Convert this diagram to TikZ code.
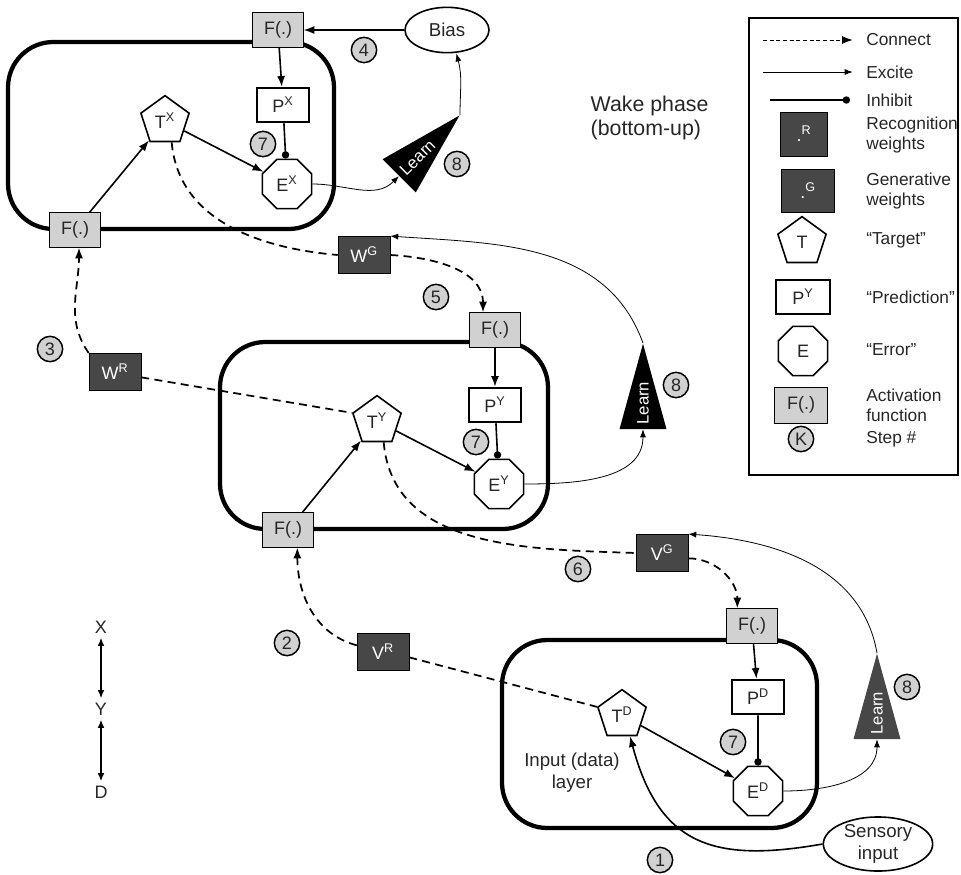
\documentclass[tikz,border=0pt]{standalone}
\usepackage{fontspec}
\setmainfont{Liberation Sans}
\usetikzlibrary{shapes.geometric, arrows.meta}

\tikzset{
  fbox/.style={draw, fill=black!18, minimum width=38pt, minimum height=26pt, inner sep=0pt},
  wbox/.style={draw, fill=black!72, text=white, minimum width=39pt, minimum height=28pt, inner sep=0pt},
  pbox/.style={draw, line width=1.4pt, fill=white, minimum width=39pt, minimum height=26pt, inner sep=0pt},
  target/.style={draw, line width=1.2pt, fill=white, regular polygon, regular polygon sides=5, minimum size=38pt, inner sep=0pt},
  error/.style={draw, line width=1.2pt, fill=white, regular polygon, regular polygon sides=8, minimum size=40pt, inner sep=0pt},
  stepno/.style={draw, line width=1.1pt, circle, fill=black!18, text=black!85, minimum size=19pt, inner sep=0pt},
  learn/.style={isosceles triangle, isosceles triangle stretches, fill=black, text=white, minimum width=32pt, minimum height=64pt, inner sep=0pt, font=\fontsize{12.5}{14}\selectfont},
  layer/.style={line width=3.2pt, rounded corners=34pt},
  connect/.style={-{Latex[length=8pt, width=6pt]}, line width=1.3pt, dash pattern=on 6pt off 4pt},
  excite/.style={-{Latex[length=8pt, width=6pt]}, line width=1.2pt},
  inhibit/.style={-{Circle[length=5.5pt]}, line width=1.2pt},
  learnline/.style={-{Latex[length=6pt, width=4.5pt]}, line width=0.6pt},
  legtext/.style={anchor=west, align=left, inner sep=0pt, font=\fontsize{13}{15}\selectfont}
}

\begin{document}
\begin{tikzpicture}[x=0.75pt, y=-0.75pt, font=\fontsize{13.5}{16}\selectfont, text=black!85]
\useasboundingbox (0,0) rectangle (961,875);

\draw[layer] (8,42) rectangle (334,229);
\draw[layer] (220,342) rectangle (548,529);
\draw[layer] (502,640) rectangle (817,828);

\node[fbox] (FXt) at (278,30) {F(.)};
\node[fbox] (FXb) at (75,230) {F(.)};
\node[pbox] (PX) at (283,105) {P\textsuperscript{X}};
\node[target] (TX) at (165,121) {T\textsuperscript{X}};
\node[error] (EX) at (287,184) {E\textsuperscript{X}};
\node[draw, line width=1.2pt, ellipse, minimum width=63pt, minimum height=34pt, font=\fontsize{14}{16}\selectfont] (bias) at (447,30) {Bias};
\node[learn, rotate=45, anchor=apex] (learnX) at (460,115) {Learn};

\node[fbox] (FYt) at (495,330) {F(.)};
\node[fbox] (FYb) at (288,530) {F(.)};
\node[pbox] (PY) at (495,405) {P\textsuperscript{Y}};
\node[target] (TY) at (377,421) {T\textsuperscript{Y}};
\node[error] (EY) at (499,484) {E\textsuperscript{Y}};
\node[learn, rotate=90, anchor=apex] (learnY) at (643,343) {Learn};

\node[fbox] (FDt) at (752,626) {F(.)};
\node[pbox] (PD) at (758,697) {P\textsuperscript{D}};
\node[target] (TD) at (622,715) {T\textsuperscript{D}};
\node[error] (ED) at (758,791) {E\textsuperscript{D}};
\node[learn, rotate=90, anchor=apex, fill=black!72] (learnD) at (877,653) {Learn};
\node[align=center, font=\fontsize{14}{16.5}\selectfont] (inlab) at (572,773) {Input (data)\\layer};
\node[draw, line width=1.2pt, ellipse, minimum width=82pt, minimum height=39pt, inner sep=0pt, align=center, font=\fontsize{14}{16}\selectfont] (sensory) at (878,844) {Sensory\\input};

\node[wbox] (WR) at (115,372) {W\textsuperscript{R}};
\node[wbox] (WG) at (364,255) {W\textsuperscript{G}};
\node[wbox] (VR) at (383,652) {V\textsuperscript{R}};
\node[wbox] (VG) at (662,553) {V\textsuperscript{G}};

\node[stepno] (s1) at (660,860) {1};
\node[stepno] (s2) at (287,643) {2};
\node[stepno] (s3) at (50,349) {3};
\node[stepno] (s4) at (364,50) {4};
\node[stepno] (s5) at (436,297) {5};
\node[stepno] (s6) at (578,569) {6};
\node[stepno] (s7x) at (263,144) {7};
\node[stepno] (s7y) at (476,442) {7};
\node[stepno] (s7d) at (733,742) {7};
\node[stepno] (s8x) at (457,164) {8};
\node[stepno] (s8y) at (676,385) {8};
\node[stepno] (s8d) at (907,687) {8};

\draw[excite] (bias) -- (FXt);
\draw[excite] (FXt) -- (PX);
\draw[excite] (FXb) -- (TX);
\draw[excite] (TX) -- (EX);
\draw[inhibit] (PX) -- (EX);
\draw[excite] (FYt) -- (PY);
\draw[excite] (FYb) -- (TY);
\draw[excite] (TY) -- (EY);
\draw[inhibit] (PY) -- (EY);
\draw[excite] (FDt) -- (PD);
\draw[excite] (TD) -- (ED);
\draw[inhibit] (PD) -- (ED);
\draw[excite] (sensory.west) to[out=190, in=-75, looseness=1.3] ([xshift=6pt]TD.south);

\draw[connect] (WR.north west) to[out=125, in=-90] ([xshift=3pt]FXb.south);
\draw[connect, -] ([yshift=-4pt]WR.east) -- (TY.corner 2);
\draw[connect, -] ([xshift=5pt]TX.south) to[out=-85, in=175] (WG.west);
\draw[connect] (WG.east) to[out=-3, in=90] ([xshift=-9pt]FYt.north);
\draw[connect] ([yshift=5pt]VR.west) to[out=165, in=-90] ([xshift=7pt]FYb.south);
\draw[connect, -] ([yshift=-4pt]VR.east) -- (TD.corner 2);
\draw[connect, -] ([xshift=5pt]TY.south) to[out=-85, in=178] (VG.west);
\draw[connect] ([yshift=-4pt]VG.east) to[out=0, in=90] ([xshift=-11pt]FDt.north);

\draw[learnline] (EX.east) to[out=0, in=225] (learnX.lower side);
\draw[learnline] (learnX.apex) to[out=90, in=-75] ([xshift=7pt]bias.south);
\draw[learnline] (EY.east) to[out=0, in=-90] (learnY.lower side);
\draw[learnline] (learnY.apex) to[out=110, in=-4] (WG.north east);
\draw[learnline] (ED.east) to[out=0, in=-90] (learnD.lower side);
\draw[learnline] (learnD.apex) to[out=100, in=-4] (VG.north east);

\node[align=left, anchor=west, font=\fontsize{16}{18}\selectfont] (phase) at (586,118) {Wake phase\\(bottom-up)};

\node (labX) at (101,627) {X};
\node (labY) at (101,709) {Y};
\node (labD) at (101,792) {D};
\draw[{Latex[length=6pt, width=5pt]}-{Latex[length=6pt, width=5pt]}, line width=0.8pt] (labX) -- (labY);
\draw[{Latex[length=6pt, width=5pt]}-{Latex[length=6pt, width=5pt]}, line width=0.8pt] (labY) -- (labD);

\draw[line width=0.8pt] (749,18) rectangle (958,475);
\node[legtext] (ltC) at (866,40) {Connect};
\node[legtext] (ltE) at (866,72) {Excite};
\node[legtext] (ltI) at (866,100) {Inhibit};
\node[legtext] (ltR) at (866,135) {Recognition\\weights};
\node[legtext] (ltG) at (866,191) {Generative\\weights};
\node[legtext] (ltT) at (866,240) {“Target”};
\node[legtext] (ltP) at (866,297) {“Prediction”};
\node[legtext] (ltEr) at (866,350) {“Error”};
\node[legtext] (ltF) at (866,405) {Activation\\function};
\node[legtext] (ltK) at (866,439) {Step \#};
\coordinate (lgC) at (763,40);
\coordinate (lgE) at (763,72);
\coordinate (lgI) at (770,100);
\draw[connect, line width=0.6pt, dash pattern=on 3pt off 2pt, shorten >=10pt] (lgC) -- (ltC.west);
\draw[learnline, shorten >=10pt] (lgE) -- (ltE.west);
\draw[inhibit, shorten >=12pt] (lgI) -- (ltI.west);
\node[wbox, minimum width=35pt, minimum height=33pt] (lgR) at (804,134) {.\textsuperscript{R}};
\node[wbox, minimum width=40pt, minimum height=32pt] (lgG) at (808,191) {.\textsuperscript{G}};
\node[target] (lgT) at (802,242) {T};
\node[pbox, minimum width=40pt] (lgP) at (803,297) {P\textsuperscript{Y}};
\node[error] (lgE2) at (803,351) {E};
\node[fbox, minimum width=40pt, minimum height=27pt] (lgF) at (801,405) {F(.)};
\node[stepno] (lgK) at (801,439) {K};
\end{tikzpicture}
\end{document}
